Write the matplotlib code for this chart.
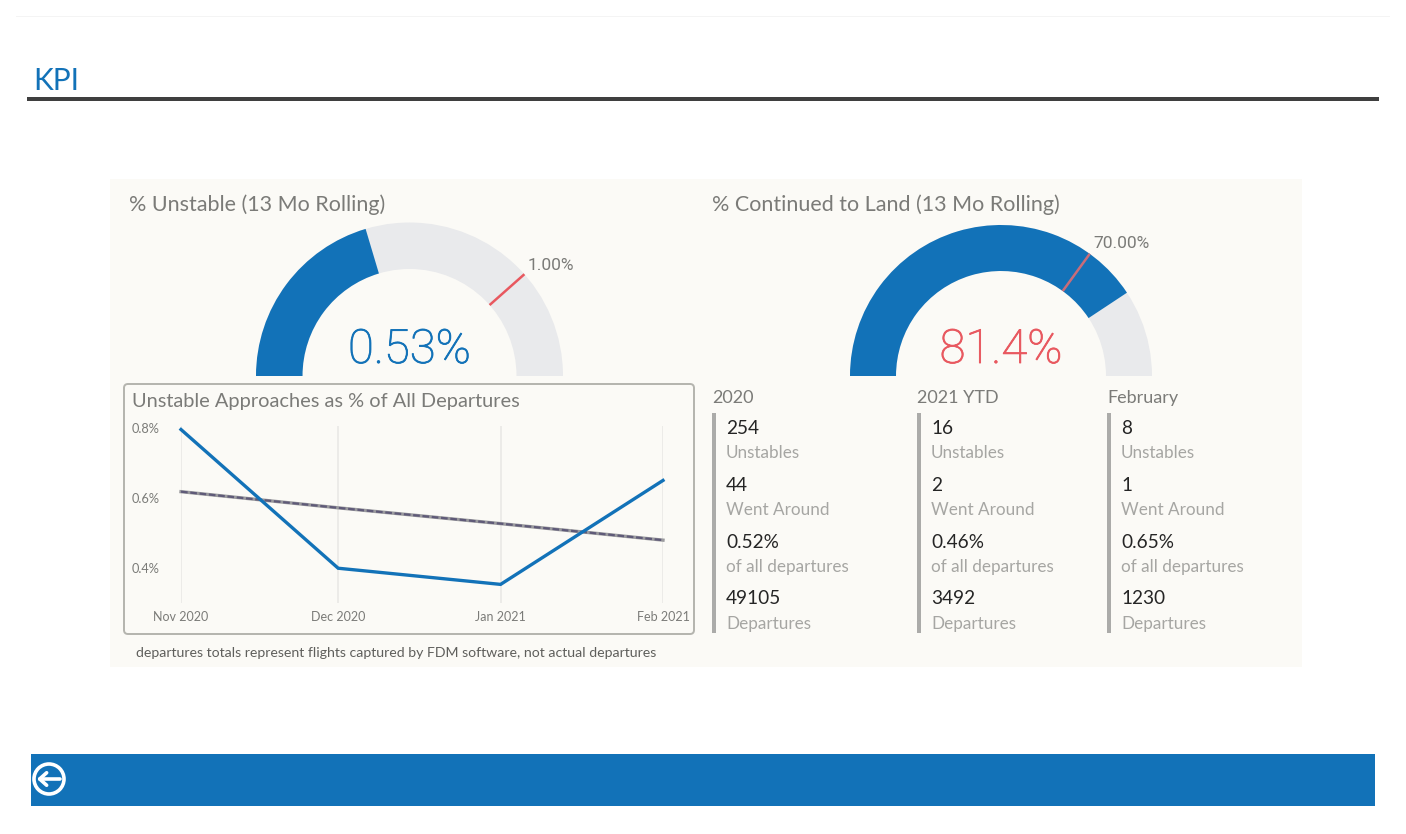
#!/usr/bin/env python3

import datetime as dt
import numpy as np
import matplotlib
matplotlib.use('Agg')
import matplotlib.pyplot as plt
import matplotlib.dates as mdates
import matplotlib.patheffects as pe
from matplotlib.patches import Wedge, Rectangle, FancyBboxPatch, Circle

BLUE = '#1272b8'
RED = '#e8585f'
TRACK = '#e9eaec'
PANEL = '#fbfaf6'
GREY = '#7b7b78'
LIGHT = '#a6a6a3'
DARK = '#252525'

plt.rcParams['font.family'] = ['Lato', 'DejaVu Sans']

months = [dt.date(2020, 11, 1), dt.date(2020, 12, 1), dt.date(2021, 1, 1), dt.date(2021, 2, 1)]
month_labels = ['Nov 2020', 'Dec 2020', 'Jan 2021', 'Feb 2021']
unstable_pct = [0.795, 0.40, 0.354, 0.65]
trend_pct = [0.618, 0.572, 0.527, 0.48]
y_ticks = [0.4, 0.6, 0.8]
y_tick_labels = ['0.4%', '0.6%', '0.8%']

gauge_left = dict(value=0.53, target=1.0, vmax=1.3)
gauge_right = dict(value=81.4, target=70.0, vmax=100.0)

col_headers = ['2020', '2021 YTD', 'February']
unstables = ['254', '16', '8']
went_around = ['44', '2', '1']
pct_departures = ['0.52%', '0.46%', '0.65%']
departures = ['49105', '3492', '1230']
row_captions = ['Unstables', 'Went Around', 'of all departures', 'Departures']


def draw_gauge(ax, cx, cy, r_out, r_in, g, target_color, label, label_xy, value_color, value_text):
    frac = g['value'] / g['vmax']
    ax.add_patch(Wedge((cx, cy), r_out, -180, 0, width=r_out - r_in, fc=TRACK, ec='none'))
    ax.add_patch(Wedge((cx, cy), r_out, -180, -180 + 180 * frac, width=r_out - r_in, fc=BLUE, ec='none'))
    a = np.pi * (1 - g['target'] / g['vmax'])
    ax.plot([cx + r_in * np.cos(a), cx + r_out * np.cos(a)],
            [cy - r_in * np.sin(a), cy - r_out * np.sin(a)], color=target_color, lw=1.8, solid_capstyle='butt')
    ax.text(label_xy[0], label_xy[1], label, color=GREY, fontsize=12.5, family='Roboto', ha='left', va='center')
    t = ax.text(cx, 350, value_text, color=value_color, fontsize=34, family='Roboto', weight='light',
                ha='center', va='center')
    t.set_path_effects([pe.withStroke(linewidth=0.6, foreground=value_color)])


fig = plt.figure(figsize=(14.06, 8.34), dpi=100, facecolor='white')
ax = fig.add_axes([0, 0, 1, 1])
ax.set_xlim(0, 1406)
ax.set_ylim(834, 0)
ax.axis('off')

# page furniture
ax.add_patch(Rectangle((16, 16), 1374, 1, fc='#f4f4f4', ec='none'))
ax.text(33, 81, 'KPI', color=BLUE, fontsize=21.5, ha='left', va='center')
ax.add_patch(Rectangle((27, 97), 1352, 3.5, fc='#3f3f3f', ec='none'))
ax.add_patch(Rectangle((110, 179), 1192, 488, fc=PANEL, ec='none'))
ax.add_patch(Rectangle((31, 754), 1344, 52, fc=BLUE, ec='none'))
ax.add_patch(Circle((49, 779), 15, fc='none', ec='white', lw=2.6))
ax.annotate('', xy=(37, 779), xytext=(60, 779),
            arrowprops=dict(arrowstyle='->,head_length=0.5,head_width=0.45', color='white', lw=2.6,
                            shrinkA=0, shrinkB=0))

# gauges
ax.text(129, 205, '% Unstable (13 Mo Rolling)', color=GREY, fontsize=15.5, ha='left', va='center')
ax.text(712, 205, '% Continued to Land (13 Mo Rolling)', color=GREY, fontsize=15.5, ha='left', va='center')
draw_gauge(ax, 409.5, 376, 153.5, 107, gauge_left, RED, '1.00%', (528, 265), BLUE, '0.53%')
draw_gauge(ax, 1001, 376, 151, 105, gauge_right, '#c96c79', '70.00%', (1093, 243), RED, '81.4%')

# line chart card
ax.add_patch(FancyBboxPatch((124, 384), 570, 250, boxstyle='round,pad=0,rounding_size=4',
                            fc=PANEL, ec='#b4b4ae', lw=1.4))
ax.text(132, 401, 'Unstable Approaches as % of All Departures', color=GREY, fontsize=14.4, ha='left', va='center')
ax.text(136, 653, 'departures totals represent flights captured by FDM software, not actual departures',
        color='#5f5f5c', fontsize=10.2, ha='left', va='center')

# stat columns
col_bar_x = [712, 917, 1107]
row_y = [428, 485, 542, 599]
value_rows = [unstables, went_around, pct_departures, departures]
for i, hdr in enumerate(col_headers):
    x = col_bar_x[i]
    ax.text(x, 398, hdr, color=GREY, fontsize=13, ha='left', va='center')
    ax.add_patch(Rectangle((x, 413), 4, 220, fc='#ababa9', ec='none'))
    for j, y in enumerate(row_y):
        ax.text(x + 14, y, value_rows[j][i], color=DARK, fontsize=13.7, ha='left', va='center')
        ax.text(x + 14, y + 25, row_captions[j], color=LIGHT, fontsize=12.3, ha='left', va='center')

# line chart
lax = fig.add_axes([181 / 1406, 1 - 603 / 834, (663 - 181) / 1406, (603 - 426) / 834])
lax.patch.set_alpha(0)
dates = mdates.date2num(months)
lax.set_xlim(dates[0], dates[-1])
lax.set_ylim(0.301, 0.805)
lax.plot(dates, trend_pct, color='#9a9a9e', lw=2.4, clip_on=False)
lax.plot(dates, trend_pct, color='#5f5a78', lw=1.6, ls=(0, (3, 1.2)), clip_on=False)
lax.plot(dates, unstable_pct, color=BLUE, lw=2.4, clip_on=False, solid_joinstyle='miter')
lax.set_xticks(dates)
lax.set_xticklabels(month_labels, fontsize=9, color=GREY)
lax.set_yticks(y_ticks)
lax.set_yticklabels(y_tick_labels, fontsize=9.2, color=GREY)
lax.tick_params(axis='both', length=0)
lax.tick_params(axis='x', pad=6)
lax.tick_params(axis='y', pad=15.2)
lax.xaxis.grid(True, color='#ecebe8', lw=1.4)
lax.set_axisbelow(True)
for s in lax.spines.values():
    s.set_visible(False)

fig.savefig('out.png', dpi=100)
